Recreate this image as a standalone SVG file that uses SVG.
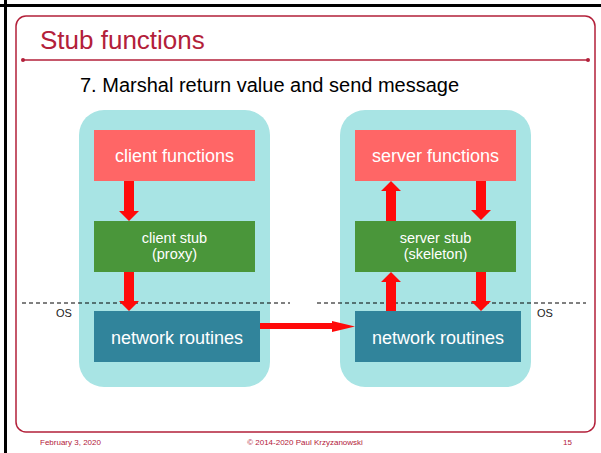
<svg xmlns="http://www.w3.org/2000/svg" width="601" height="453" viewBox="0 0 601 453">
<style>
.t{font-family:"Liberation Sans",Arial,sans-serif}
.cy{fill:#A8E4E4}
.fn{fill:#FF6666}
.st{fill:#4A963A}
.nr{fill:#31849B}
.lbl{font-family:"Liberation Sans",Arial,sans-serif;fill:#fff;text-anchor:middle}
.arr{fill:#FF0A0A}
.os{font-family:"Liberation Sans",Arial,sans-serif;font-size:11px;fill:#222}
.ft{font-family:"Liberation Sans",Arial,sans-serif;font-size:8px;fill:#B3203A}
.dash{stroke:#000;stroke-width:1;stroke-dasharray:4 3;fill:none}
</style>
<rect width="601" height="453" fill="#fff"/>
<g id="frame">
<line x1="0" y1="5.5" x2="601" y2="5.5" stroke="#000" stroke-width="3"/>
<line x1="5.5" y1="0" x2="5.5" y2="453" stroke="#000" stroke-width="3"/>
<path d="M26,16 H585 A10,10 0 0 1 595,26 V422 A10,10 0 0 1 585,432 H26 A10,10 0 0 1 16,422 V26 A10,10 0 0 1 26,16 Z" fill="none" stroke="#B3203A" stroke-width="1.5"/>
<line x1="23" y1="60" x2="588" y2="60" stroke="#B3203A" stroke-width="1.3"/>
<circle cx="23" cy="60" r="2" fill="#B3203A"/>
<circle cx="588" cy="60" r="2" fill="#B3203A"/>
</g>
<text class="t" x="40" y="49" font-size="26" fill="#B3203A">Stub functions</text>
<text class="t" x="80" y="92" font-size="20" fill="#000">7. Marshal return value and send message</text>
<g id="client">
<rect class="cy" x="79" y="110" width="191" height="277" rx="25"/>
</g>
<g id="server">
<rect class="cy" x="340" y="110" width="191" height="277" rx="25"/>
</g>
<g id="client-functions">
<rect class="fn" x="94" y="130" width="161" height="51"/>
<text class="lbl" x="174.5" y="162" font-size="18">client functions</text>
</g>
<g id="client-stub">
<rect class="st" x="94" y="221" width="161" height="51"/>
<text class="lbl" x="174.5" y="243" font-size="14.5">client stub</text>
<text class="lbl" x="174.5" y="259" font-size="14.5">(proxy)</text>
</g>
<g id="client-network">
<rect class="nr" x="94" y="311" width="166" height="51"/>
<text class="lbl" x="177" y="344" font-size="18">network routines</text>
</g>
<g id="server-functions">
<rect class="fn" x="355" y="130" width="161" height="51"/>
<text class="lbl" x="435.5" y="162" font-size="18">server functions</text>
</g>
<g id="server-stub">
<rect class="st" x="355" y="221" width="161" height="51"/>
<text class="lbl" x="435.5" y="243" font-size="14.5">server stub</text>
<text class="lbl" x="435.5" y="259" font-size="14.5">(skeleton)</text>
</g>
<g id="server-network">
<rect class="nr" x="355" y="311" width="166" height="51"/>
<text class="lbl" x="438" y="344" font-size="18">network routines</text>
</g>
<g id="os-boundary">
<line class="dash" x1="22" y1="303" x2="290" y2="303"/>
<line class="dash" x1="317" y1="303" x2="586" y2="303"/>
<text class="os" x="56" y="317">OS</text>
<text class="os" x="537" y="317">OS</text>
</g>
<g id="connectors">
<polygon class="arr" points="124,181 134,181 134,211 139,211 129,221 119,211 124,211"/>
<polygon class="arr" points="124,272 134,272 134,301 139,301 129,311 119,301 124,301"/>
<polygon class="arr" points="476,181 486,181 486,210 491,210 481,220 471,210 476,210"/>
<polygon class="arr" points="476,272 486,272 486,301 491,301 481,311 471,301 476,301"/>
<polygon class="arr" points="386,221 396,221 396,191 401,191 391,181 381,191 386,191"/>
<polygon class="arr" points="386,311 396,311 396,282 401,282 391,272 381,282 386,282"/>
<polygon class="arr" points="260,323 332,323 332,321 355,326.5 332,332 332,329 260,329"/>
</g>
<text class="ft" x="40" y="445">February 3, 2020</text>
<text class="ft" x="305" y="445" text-anchor="middle">© 2014-2020 Paul Krzyzanowski</text>
<text class="ft" x="563" y="445">15</text>
</svg>
